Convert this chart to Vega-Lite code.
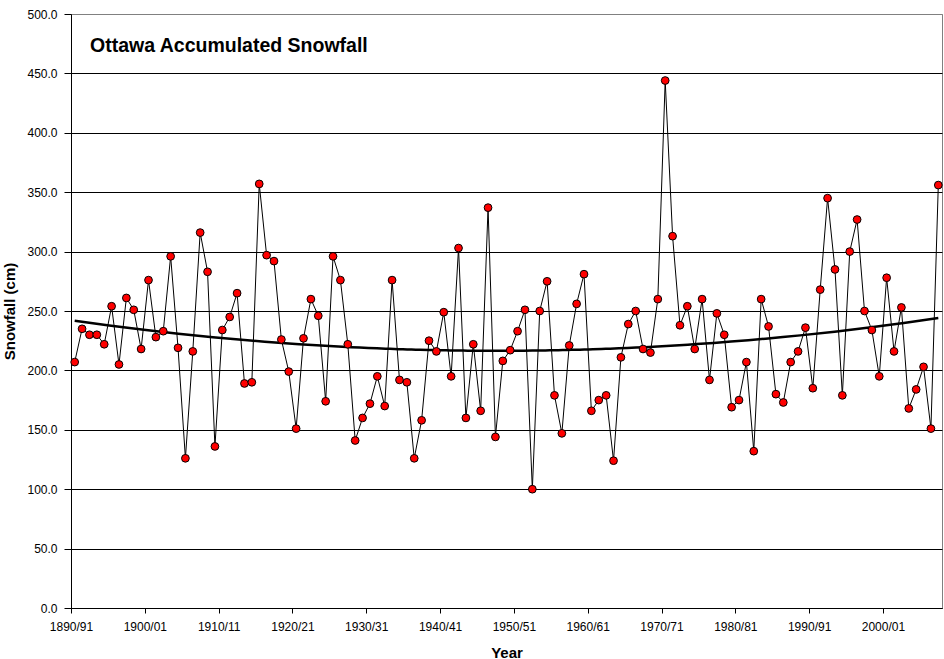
{
  "$schema": "https://vega.github.io/schema/vega-lite/v6.json",
  "width": 871,
  "height": 594,
  "autosize": {"type": "none"},
  "padding": {"left": 71, "top": 14, "right": 2, "bottom": 51},
  "background": "white",
  "title": {
    "text": "Ottawa Accumulated Snowfall",
    "anchor": "start",
    "frame": "group",
    "font": "Liberation Sans",
    "fontSize": 19.5,
    "fontWeight": "bold",
    "color": "black",
    "baseline": "alphabetic",
    "offset": -63,
    "dx": 19
  },
  "config": {
    "view": {"stroke": "#808080", "strokeWidth": 1},
    "axis": {
      "labelFont": "Liberation Sans",
      "labelFontSize": 12,
      "labelColor": "black",
      "titleFont": "Liberation Sans",
      "titleFontSize": 15,
      "titleFontWeight": "bold",
      "titleColor": "black",
      "domainColor": "black",
      "tickColor": "black"
    }
  },
  "data": {
    "values": [
      {"year": 1890, "snowfall": 207}, {"year": 1891, "snowfall": 235}, {"year": 1892, "snowfall": 230},
      {"year": 1893, "snowfall": 230}, {"year": 1894, "snowfall": 222}, {"year": 1895, "snowfall": 254},
      {"year": 1896, "snowfall": 205}, {"year": 1897, "snowfall": 261}, {"year": 1898, "snowfall": 251},
      {"year": 1899, "snowfall": 218}, {"year": 1900, "snowfall": 276}, {"year": 1901, "snowfall": 228},
      {"year": 1902, "snowfall": 233}, {"year": 1903, "snowfall": 296}, {"year": 1904, "snowfall": 219},
      {"year": 1905, "snowfall": 126}, {"year": 1906, "snowfall": 216}, {"year": 1907, "snowfall": 316},
      {"year": 1908, "snowfall": 283}, {"year": 1909, "snowfall": 136}, {"year": 1910, "snowfall": 234},
      {"year": 1911, "snowfall": 245}, {"year": 1912, "snowfall": 265}, {"year": 1913, "snowfall": 189},
      {"year": 1914, "snowfall": 190}, {"year": 1915, "snowfall": 357}, {"year": 1916, "snowfall": 297},
      {"year": 1917, "snowfall": 292}, {"year": 1918, "snowfall": 226}, {"year": 1919, "snowfall": 199},
      {"year": 1920, "snowfall": 151}, {"year": 1921, "snowfall": 227}, {"year": 1922, "snowfall": 260},
      {"year": 1923, "snowfall": 246}, {"year": 1924, "snowfall": 174}, {"year": 1925, "snowfall": 296},
      {"year": 1926, "snowfall": 276}, {"year": 1927, "snowfall": 222}, {"year": 1928, "snowfall": 141},
      {"year": 1929, "snowfall": 160}, {"year": 1930, "snowfall": 172}, {"year": 1931, "snowfall": 195},
      {"year": 1932, "snowfall": 170}, {"year": 1933, "snowfall": 276}, {"year": 1934, "snowfall": 192},
      {"year": 1935, "snowfall": 190}, {"year": 1936, "snowfall": 126}, {"year": 1937, "snowfall": 158},
      {"year": 1938, "snowfall": 225}, {"year": 1939, "snowfall": 216}, {"year": 1940, "snowfall": 249},
      {"year": 1941, "snowfall": 195}, {"year": 1942, "snowfall": 303}, {"year": 1943, "snowfall": 160},
      {"year": 1944, "snowfall": 222}, {"year": 1945, "snowfall": 166}, {"year": 1946, "snowfall": 337},
      {"year": 1947, "snowfall": 144}, {"year": 1948, "snowfall": 208}, {"year": 1949, "snowfall": 217},
      {"year": 1950, "snowfall": 233}, {"year": 1951, "snowfall": 251}, {"year": 1952, "snowfall": 100},
      {"year": 1953, "snowfall": 250}, {"year": 1954, "snowfall": 275}, {"year": 1955, "snowfall": 179},
      {"year": 1956, "snowfall": 147}, {"year": 1957, "snowfall": 221}, {"year": 1958, "snowfall": 256},
      {"year": 1959, "snowfall": 281}, {"year": 1960, "snowfall": 166}, {"year": 1961, "snowfall": 175},
      {"year": 1962, "snowfall": 179}, {"year": 1963, "snowfall": 124}, {"year": 1964, "snowfall": 211},
      {"year": 1965, "snowfall": 239}, {"year": 1966, "snowfall": 250}, {"year": 1967, "snowfall": 218},
      {"year": 1968, "snowfall": 215}, {"year": 1969, "snowfall": 260}, {"year": 1970, "snowfall": 444},
      {"year": 1971, "snowfall": 313}, {"year": 1972, "snowfall": 238}, {"year": 1973, "snowfall": 254},
      {"year": 1974, "snowfall": 218}, {"year": 1975, "snowfall": 260}, {"year": 1976, "snowfall": 192},
      {"year": 1977, "snowfall": 248}, {"year": 1978, "snowfall": 230}, {"year": 1979, "snowfall": 169},
      {"year": 1980, "snowfall": 175}, {"year": 1981, "snowfall": 207}, {"year": 1982, "snowfall": 132},
      {"year": 1983, "snowfall": 260}, {"year": 1984, "snowfall": 237}, {"year": 1985, "snowfall": 180},
      {"year": 1986, "snowfall": 173}, {"year": 1987, "snowfall": 207}, {"year": 1988, "snowfall": 216},
      {"year": 1989, "snowfall": 236}, {"year": 1990, "snowfall": 185}, {"year": 1991, "snowfall": 268},
      {"year": 1992, "snowfall": 345}, {"year": 1993, "snowfall": 285}, {"year": 1994, "snowfall": 179},
      {"year": 1995, "snowfall": 300}, {"year": 1996, "snowfall": 327}, {"year": 1997, "snowfall": 250},
      {"year": 1998, "snowfall": 234}, {"year": 1999, "snowfall": 195}, {"year": 2000, "snowfall": 278},
      {"year": 2001, "snowfall": 216}, {"year": 2002, "snowfall": 253}, {"year": 2003, "snowfall": 168},
      {"year": 2004, "snowfall": 184}, {"year": 2005, "snowfall": 203}, {"year": 2006, "snowfall": 151},
      {"year": 2007, "snowfall": 356}
    ]
  },
  "encoding": {
    "x": {
      "field": "year", "type": "quantitative",
      "scale": {"domain": [1889.5, 2007.5], "nice": false, "zero": false},
      "axis": {
        "title": "Year",
        "values": [1889.5, 1899.5, 1909.5, 1919.5, 1929.5, 1939.5, 1949.5, 1959.5, 1969.5, 1979.5, 1989.5, 1999.5],
        "labelExpr": "(datum.value + 0.5) + '/' + slice('0' + ((datum.value + 1.5) % 100), -2)",
        "labelFlush": false,
        "grid": false,
        "tickSize": 5,
        "labelPadding": 8,
        "titlePadding": 13
      }
    },
    "y": {
      "field": "snowfall", "type": "quantitative",
      "scale": {"domain": [0, 500], "nice": false},
      "axis": {
        "title": "Snowfall (cm)",
        "values": [0, 50, 100, 150, 200, 250, 300, 350, 400, 450, 500],
        "format": ".1f",
        "grid": true,
        "gridColor": {"condition": {"test": "datum.value === 500", "value": "#808080"}, "value": "black"},
        "gridOpacity": 1,
        "tickSize": 7,
        "labelPadding": 7,
        "titlePadding": 9
      }
    }
  },
  "layer": [
    {
      "mark": {"type": "line", "color": "black", "strokeWidth": 1},
      "encoding": {}
    },
    {
      "transform": [{"regression": "snowfall", "on": "year", "method": "poly", "order": 2}],
      "mark": {"type": "line", "color": "black", "strokeWidth": 2.5},
      "encoding": {}
    },
    {
      "mark": {"type": "point", "shape": "circle", "filled": true, "fill": "#ff0000", "stroke": "black", "strokeWidth": 1, "size": 60, "opacity": 1}
    }
  ]
}
